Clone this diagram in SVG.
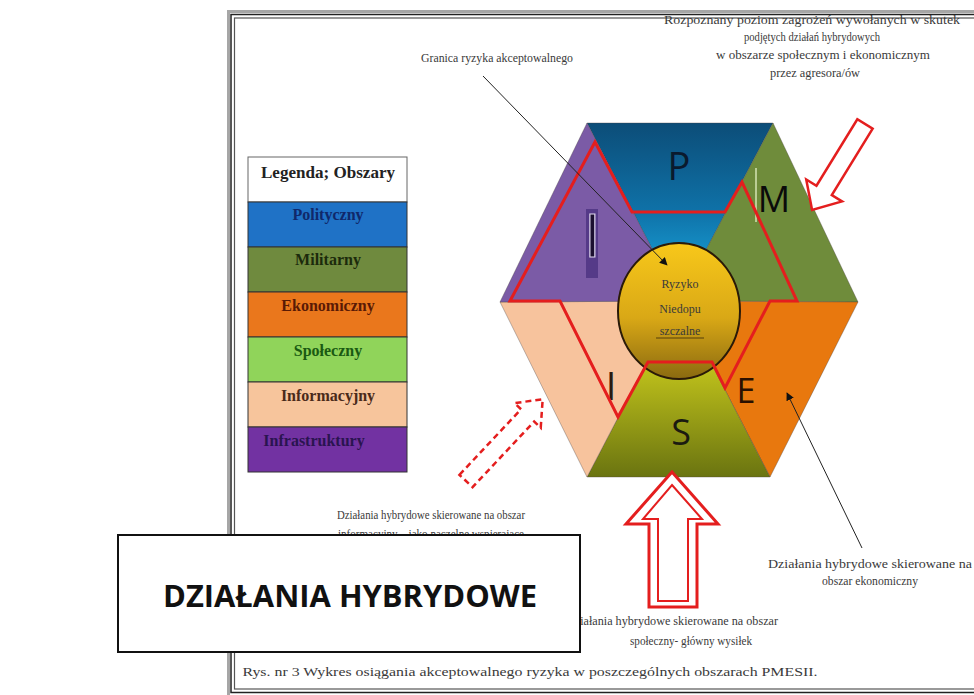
<svg xmlns="http://www.w3.org/2000/svg" width="974" height="695" viewBox="0 0 974 695">
<defs>
<style>
.lbl{font-family:"Liberation Serif","Times New Roman",serif;font-size:12px;fill:#3a3a3a;text-anchor:middle}
.leg{font-family:"Liberation Serif","Times New Roman",serif;font-size:16px;font-weight:bold;text-anchor:middle}
.big{font-family:"Open Sans","Liberation Sans",sans-serif;text-anchor:middle}
.red{fill:none;stroke:#e41e1e;stroke-width:3;stroke-linejoin:miter}
.tri{stroke:#4a4040;stroke-width:0.6;stroke-opacity:0.6}
.lead{stroke:#222;stroke-width:1;fill:none}
</style>
<linearGradient id="gP" x1="0" y1="123" x2="0" y2="300" gradientUnits="userSpaceOnUse">
<stop offset="0" stop-color="#0c4d78"/><stop offset="0.5" stop-color="#0f72a8"/><stop offset="1" stop-color="#1cb2ea"/>
</linearGradient>
<linearGradient id="gS" x1="0" y1="340" x2="0" y2="477" gradientUnits="userSpaceOnUse">
<stop offset="0" stop-color="#d4d41e"/><stop offset="1" stop-color="#6a7410"/>
</linearGradient>
<linearGradient id="gC" x1="0" y1="243" x2="0" y2="379" gradientUnits="userSpaceOnUse">
<stop offset="0" stop-color="#f8c81a"/><stop offset="0.55" stop-color="#d9a816"/><stop offset="1" stop-color="#8a6a10"/>
</linearGradient>
<marker id="ah" viewBox="0 0 10 10" refX="9" refY="5" markerWidth="8" markerHeight="8" orient="auto" markerUnits="userSpaceOnUse">
<path d="M0,0 L10,5 L0,10 z" fill="#111"/>
</marker>
</defs>
<rect width="974" height="695" fill="#fff"/>
<g id="frame">
<rect x="228.5" y="11.5" width="760" height="700" fill="#fff" stroke="#a6a6a6" stroke-width="3"/>
<rect x="231" y="14.5" width="760" height="678" fill="none" stroke="#222" stroke-width="1.5"/>
<rect x="234.5" y="18" width="760" height="671" fill="none" stroke="#555" stroke-width="1.2"/>
</g>
<g id="legend">
<rect x="248" y="157" width="159" height="45" fill="#fff" stroke="#666" stroke-width="1"/>
<rect x="248" y="202" width="159" height="45" fill="#1f72c6" stroke="#333" stroke-width="1"/>
<rect x="248" y="247" width="159" height="45" fill="#6f8a3e" stroke="#333" stroke-width="1"/>
<rect x="248" y="292" width="159" height="45" fill="#ea771c" stroke="#333" stroke-width="1"/>
<rect x="248" y="337" width="159" height="45" fill="#90d45a" stroke="#333" stroke-width="1"/>
<rect x="248" y="382" width="159" height="45" fill="#f7c59c" stroke="#333" stroke-width="1"/>
<rect x="248" y="427" width="159" height="45" fill="#7232a2" stroke="#333" stroke-width="1"/>
<text class="leg" x="328" y="178" fill="#222" textLength="134" lengthAdjust="spacingAndGlyphs">Legenda; Obszary</text>
<text class="leg" x="328" y="220" fill="#10286a">Polityczny</text>
<text class="leg" x="328" y="265" fill="#1c2a0c">Militarny</text>
<text class="leg" x="328" y="311" fill="#5a1a05">Ekonomiczny</text>
<text class="leg" x="328" y="356" fill="#1a5a12">Społeczny</text>
<text class="leg" x="328" y="401" fill="#4a2a1a">Informacyjny</text>
<text class="leg" x="314" y="446" fill="#2a1450">Infrastruktury</text>
</g>
<g id="hexagon">
<polygon id="P" class="tri" points="587,123 773,123 679,301" fill="url(#gP)"/>
<polygon id="M" class="tri" points="773,123 858,302 679,301" fill="#6f8c3b"/>
<polygon id="E" class="tri" points="858,302 770,477 679,301" fill="#e8780e"/>
<polygon id="S" class="tri" points="770,477 587,477 679,301" fill="url(#gS)"/>
<polygon id="Iinf" class="tri" points="587,477 500,302 679,301" fill="#f7c39d"/>
<polygon id="Iinfra" class="tri" points="500,302 587,123 679,301" fill="#7b5ba6"/>
<rect x="586" y="209" width="12" height="69" fill="#553a88"/>
<line x1="756" y1="168" x2="756" y2="222" stroke="#d4e4b4" stroke-width="1.5"/>
<text class="big" x="679" y="180" font-size="38" fill="#0a1a2e">P</text>
<text class="big" x="774" y="212" font-size="36" fill="#0a0a0a">M</text>
<text class="big" x="592.5" y="257" font-size="60" fill="#1c1030" stroke="#d8d0e8" stroke-width="1.2">I</text>
<text class="big" x="611" y="400" font-size="38" fill="#2a1a10">I</text>
<text class="big" x="746" y="403" font-size="34" fill="#2a1000">E</text>
<text class="big" x="681" y="445" font-size="36" fill="#1a1a10">S</text>
</g>
<g id="risk">
<ellipse cx="679" cy="311" rx="61" ry="68" fill="url(#gC)" stroke="#2a1a08" stroke-width="2"/>
<text class="lbl" x="680" y="288" font-size="13" fill="#3a2a08">Ryzyko</text>
<text class="lbl" x="680" y="313" font-size="13" fill="#3a2a08">Niedopu</text>
<text class="lbl" x="680" y="335" font-size="13" fill="#3a2a08">szczalne</text>
<line x1="656" y1="338" x2="704" y2="338" stroke="#3a2a08" stroke-width="0.8"/>
</g>
<g id="boundary">
<polygon class="red" points="595,142 632,212 725,212 742,182 797,301 770,301 725,388 712,362 648,362 618,417 560,301 510,301"/>
</g>
<g id="arrows">
<polygon transform="translate(865,124) rotate(121.6)" points="0,-9 78,-9 78,-21 101,0 78,21 78,9 0,9" fill="#fff" stroke="#e41e1e" stroke-width="2.5"/>
<polygon transform="translate(466,481) rotate(-46.8)" points="0,-9 90,-9 90,-18 112,0 90,18 90,9 0,9" fill="#fff" stroke="#e41e1e" stroke-width="2.5" stroke-dasharray="6,4"/>
<polygon points="672,472 718,524 697,524 697,607 649,607 649,524 626,524" fill="#fff" stroke="#e41e1e" stroke-width="3"/>
<polygon points="672,485 702,519 688,519 688,601 658,601 658,519 643,519" fill="#fff" stroke="#e41e1e" stroke-width="2"/>
</g>
<g id="connectors">
<line class="lead" x1="483" y1="76" x2="667" y2="265" marker-end="url(#ah)"/>
<line class="lead" x1="862" y1="548" x2="787" y2="393" marker-end="url(#ah)"/>
</g>
<g id="labels">
<text class="lbl" x="497" y="62" textLength="152" lengthAdjust="spacingAndGlyphs">Granica ryzyka akceptowalnego</text>
<text class="lbl" x="812" y="24" font-size="11" textLength="296" lengthAdjust="spacingAndGlyphs">Rozpoznany poziom zagrożeń wywołanych w skutek</text>
<text class="lbl" x="812" y="41" font-size="11" textLength="136" lengthAdjust="spacingAndGlyphs">podjętych działań hybrydowych</text>
<text class="lbl" x="823" y="59" font-size="11" textLength="214" lengthAdjust="spacingAndGlyphs">w obszarze społecznym i ekonomicznym</text>
<text class="lbl" x="815" y="77" font-size="11" textLength="90" lengthAdjust="spacingAndGlyphs">przez agresora/ów</text>
<text class="lbl" x="431" y="519" textLength="188" lengthAdjust="spacingAndGlyphs">Działania hybrydowe skierowane na obszar</text>
<text class="lbl" x="431" y="538" textLength="186" lengthAdjust="spacingAndGlyphs">informacyjny – jako naczelne wspierające</text>
<text class="lbl" x="870" y="568" textLength="204" lengthAdjust="spacingAndGlyphs">Działania hybrydowe skierowane na</text>
<text class="lbl" x="870" y="585" textLength="96" lengthAdjust="spacingAndGlyphs">obszar ekonomiczny</text>
<text class="lbl" x="672" y="625" textLength="212" lengthAdjust="spacingAndGlyphs">Działania hybrydowe skierowane na obszar</text>
<text class="lbl" x="691" y="645" textLength="122" lengthAdjust="spacingAndGlyphs">społeczny- główny wysiłek</text>
<text class="lbl" x="530" y="676" textLength="575" lengthAdjust="spacingAndGlyphs">Rys. nr 3 Wykres osiągania akceptowalnego ryzyka w poszczególnych obszarach PMESII.</text>
</g>
<g id="title">
<rect x="118" y="535" width="462" height="117" fill="#fff" stroke="#111" stroke-width="2"/>
<text x="350" y="607" font-family="'Open Sans','Liberation Sans',sans-serif" font-weight="bold" font-size="30" text-anchor="middle" fill="#111" textLength="374" lengthAdjust="spacingAndGlyphs">DZIAŁANIA HYBRYDOWE</text>
</g>
</svg>
